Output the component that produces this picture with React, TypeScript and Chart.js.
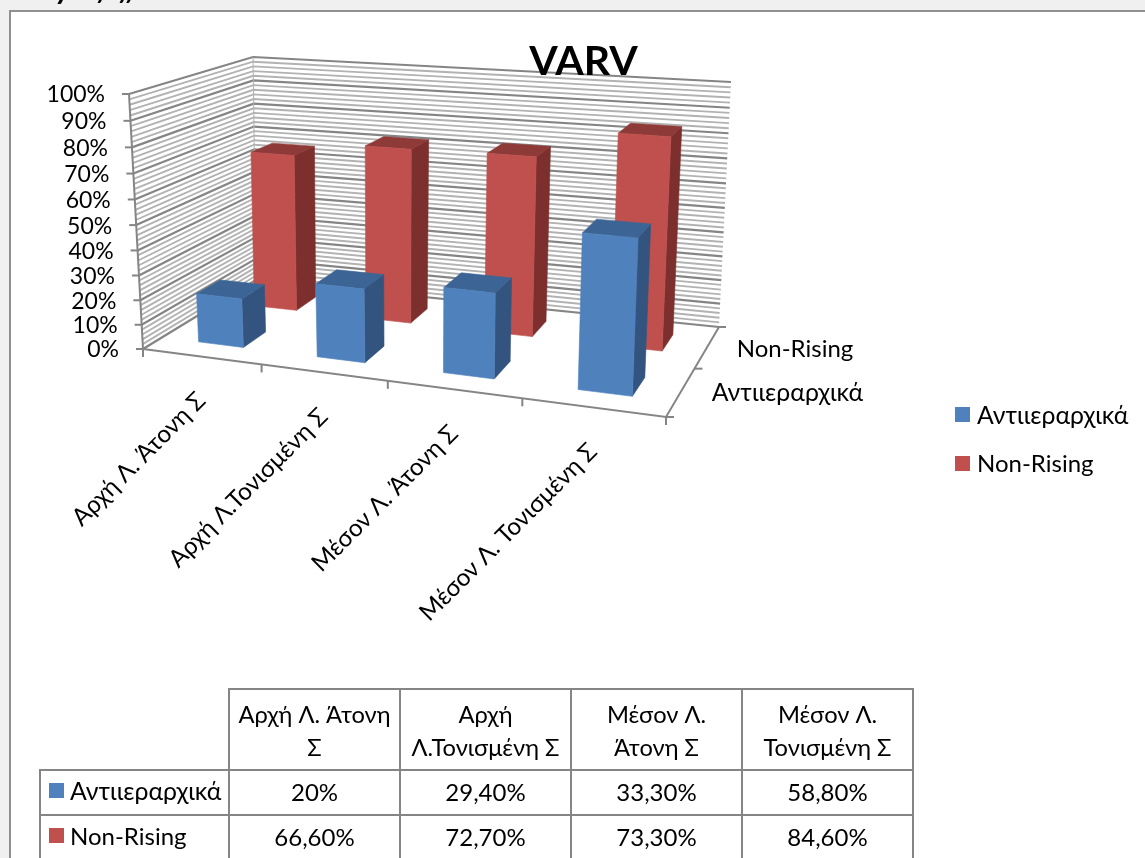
import React, { useEffect, useRef } from "react";
import { Chart, registerables } from "chart.js";

Chart.register(...registerables);

const categories = ["Αρχή Λ. Άτονη Σ", "Αρχή Λ.Τονισμένη Σ", "Μέσον Λ. Άτονη Σ", "Μέσον Λ. Τονισμένη Σ"];
const seriesNames = ["Αντιιεραρχικά", "Non-Rising"];
const antiValues = [20, 29.4, 33.3, 58.8];
const nonRisingValues = [66.6, 72.7, 73.3, 84.6];
const antiCells = ["20%", "29,40%", "33,30%", "58,80%"];
const nonRisingCells = ["66,60%", "72,70%", "73,30%", "84,60%"];
const headerLines = [["Αρχή Λ. Άτονη", "Σ"], ["Αρχή", "Λ.Τονισμένη Σ"], ["Μέσον Λ.", "Άτονη Σ"], ["Μέσον Λ.", "Τονισμένη Σ"]];
const title = "VARV";

const FONT = 'Lato, "Open Sans", sans-serif';
const TXT = "#000";
const LINE = "#858585";
const MINOR = "#b2b2b2";
const SERIES_SIZE = [24.8, 24];
const BAR_SHIFT = 0.003;
const FACES = [
  { front: "#4f81bd", side: "#32547f", top: "#3c6595" },
  { front: "#c0504d", side: "#7c2f2d", top: "#8e3a38" },
];

type P = [number, number];
const FL0: P = [143, 349], FR0: P = [666, 417], BL0: P = [256, 280], BR0: P = [719, 327];
const FL1: P = [129, 94], FR1: P = [678, 132], BL1: P = [253, 57], BR1: P = [731, 82];

const warp = (x: number, a: number) => (a * x) / (1 + (a - 1) * x);
const mix = (a: P, b: P, k: number): P => [a[0] + (b[0] - a[0]) * k, a[1] + (b[1] - a[1]) * k];

function project(t: number, d: number, h: number): P {
  const u = warp(t, 0.88), v = warp(d, 1.16), w = warp(h, 0.945);
  const low = mix(mix(FL0, FR0, u), mix(BL0, BR0, u), v);
  const high = mix(mix(FL1, FR1, u), mix(BL1, BR1, u), v);
  return mix(low, high, w);
}

function poly(ctx: CanvasRenderingContext2D, pts: P[], fill: string) {
  ctx.beginPath();
  pts.forEach((p, i) => (i ? ctx.lineTo(p[0], p[1]) : ctx.moveTo(p[0], p[1])));
  ctx.closePath();
  ctx.fillStyle = fill;
  ctx.fill();
  ctx.strokeStyle = fill;
  ctx.lineWidth = 0.6;
  ctx.stroke();
}

function seg(ctx: CanvasRenderingContext2D, pts: P[], color: string, width: number) {
  ctx.beginPath();
  pts.forEach((p, i) => (i ? ctx.lineTo(p[0], p[1]) : ctx.moveTo(p[0], p[1])));
  ctx.strokeStyle = color;
  ctx.lineWidth = width;
  ctx.stroke();
}

function text(ctx: CanvasRenderingContext2D, s: string, x: number, y: number, size: number, align: CanvasTextAlign = "center") {
  ctx.font = `${size}px ${FONT}`;
  ctx.fillStyle = TXT;
  ctx.textAlign = align;
  ctx.textBaseline = "middle";
  ctx.fillText(s, x, y);
}

const scene = {
  id: "scene",
  beforeDatasetsDraw(chart: any) {
    const ctx: CanvasRenderingContext2D = chart.ctx;
    const { x: xs, y: ys } = chart.scales;
    const area = chart.chartArea;
    const W = chart.width, H = chart.height;
    ctx.save();
    // page frame
    ctx.fillStyle = "#f0f0f0";
    ctx.fillRect(0, 0, W, H);
    ctx.fillStyle = "#fff";
    ctx.fillRect(10, 11, W, H);
    seg(ctx, [[10, H], [10, 11], [W, 11]], "#8f8f8f", 2);
    // cropped text of the page above
    ctx.font = `italic bold 30px ${FONT}`;
    ctx.fillStyle = "#000";
    ctx.textAlign = "left";
    ctx.textBaseline = "alphabetic";
    ctx.fillText("y", 56, -1);
    ctx.fillText("/", 98, 1);
    ctx.fillText("//", 120, 1);

    // walls
    poly(ctx, [project(0, 0, 0), project(0, 1, 0), project(0, 1, 1), project(0, 0, 1)], "#fff");
    poly(ctx, [project(0, 1, 0), project(1, 1, 0), project(1, 1, 1), project(0, 1, 1)], "#fff");
    const max = ys.max;
    for (let i = 0; i <= 50; i++) {
      if (i % 5 === 0) continue;
      const h = i / 50;
      seg(ctx, [project(0, 0, h), project(0, 1, h), project(1, 1, h)], MINOR, 1.9);
    }
    ys.ticks.forEach((tk: any) => {
      const h = (area.bottom - ys.getPixelForValue(tk.value)) / area.height;
      seg(ctx, [project(0, 0, h), project(0, 1, h), project(1, 1, h)], LINE, 2.2);
      const p = project(0, 0, h);
      seg(ctx, [[p[0] - 7, p[1]], p], LINE, 2);
      text(ctx, `${Math.round((tk.value / max) * 100)}%`, p[0] - 24, p[1] + 1, 23, "right");
    });
    seg(ctx, [project(0, 0, 0), project(0, 0, 1)], LINE, 2);
    seg(ctx, [project(0, 1, 0), project(0, 1, 1)], MINOR, 1);

    // title sits over the wall lines
    ctx.font = `bold 41px ${FONT}`;
    ctx.fillStyle = "#000";
    ctx.textAlign = "center";
    ctx.textBaseline = "alphabetic";
    ctx.fillText(title, 583.5, 75);

    // floor edges
    seg(ctx, [project(0, 0, 0), project(1, 0, 0), project(1, 1, 0)], LINE, 2);
    for (let i = 0; i <= categories.length; i++) {
      const p = project(i / categories.length, 0, 0);
      seg(ctx, [p, [p[0], p[1] + 8]], LINE, 2);
    }
    const fr = project(1, 0, 0), mid = project(1, 0.5, 0), br = project(1, 1, 0);
    seg(ctx, [fr, [fr[0] + 8, fr[1]]], LINE, 2);
    seg(ctx, [mid, [mid[0] + 8, mid[1]]], LINE, 2);
    seg(ctx, [br, [br[0] + 7, br[1]]], LINE, 2);

    // depth axis labels
    text(ctx, seriesNames[1], 795, 349, SERIES_SIZE[1]);
    text(ctx, seriesNames[0], 787.5, 393, SERIES_SIZE[0]);

    // rotated category labels
    categories.forEach((c, i) => {
      const p = project((xs.getPixelForValue(i) - area.left) / area.width, 0, 0);
      ctx.save();
      ctx.translate(p[0], p[1] + 40);
      ctx.rotate((-45 * Math.PI) / 180);
      text(ctx, c, 0, 0, 24.3, "right");
      ctx.restore();
    });

    // legend
    [[407, 416], [456, 464]].forEach(([sy, ty], i) => {
      ctx.fillStyle = FACES[i].front;
      ctx.fillRect(955, sy, 15, 15);
      text(ctx, seriesNames[i], 977, ty, SERIES_SIZE[i], "left");
    });

    // data table
    const cols = [229, 400, 571, 742, 913];
    seg(ctx, [[229, H], [229, 689], [913, 689], [913, H]], LINE, 2);
    seg(ctx, [[40, H], [40, 770], [913, 770]], LINE, 2);
    seg(ctx, [[40, 815], [913, 815]], LINE, 2);
    cols.slice(1, 4).forEach((x) => seg(ctx, [[x, 689], [x, H]], LINE, 2));
    headerLines.forEach((ls, i) => {
      const cx = (cols[i] + cols[i + 1]) / 2;
      text(ctx, ls[0], cx, 715, 23.7);
      text(ctx, ls[1], cx, 748, 23.7);
    });
    [antiCells, nonRisingCells].forEach((cells, r) => {
      const y = r === 0 ? 793 : 838;
      ctx.fillStyle = FACES[r].front;
      ctx.fillRect(49, r === 0 ? 783 : 828, 15, 15);
      text(ctx, seriesNames[r], 70, y - 1, SERIES_SIZE[r], "left");
      cells.forEach((s, i) => text(ctx, s, (cols[i] + cols[i + 1]) / 2, y, 24));
    });
    ctx.restore();
  },
  beforeDatasetDraw(chart: any, args: any) {
    const ctx: CanvasRenderingContext2D = chart.ctx;
    const area = chart.chartArea;
    const series = args.index;
    const f = FACES[series];
    const d0 = 0.15 + 0.5 * series, d1 = d0 + 0.2;
    args.meta.data.forEach((el: any) => {
      const t0 = (el.x - el.width / 2 - area.left) / area.width + BAR_SHIFT;
      const t1 = (el.x + el.width / 2 - area.left) / area.width + BAR_SHIFT;
      const h = (el.base - el.y) / area.height;
      poly(ctx, [project(t1, d0, 0), project(t1, d1, 0), project(t1, d1, h), project(t1, d0, h)], f.side);
      poly(ctx, [project(t0, d0, h), project(t1, d0, h), project(t1, d1, h), project(t0, d1, h)], f.top);
      poly(ctx, [project(t0, d0, 0), project(t1, d0, 0), project(t1, d0, h), project(t0, d0, h)], f.front);
    });
    return false;
  },
};

export default function App() {
  const ref = useRef<HTMLCanvasElement>(null);
  useEffect(() => {
    document.body.style.margin = "0";
    document.body.style.overflow = "hidden";
    const chart = new Chart(ref.current!, {
      type: "bar",
      data: {
        labels: categories,
        datasets: [
          { label: seriesNames[0], data: antiValues, backgroundColor: FACES[0].front, grouped: false, categoryPercentage: 1, barPercentage: 0.385 },
          { label: seriesNames[1], data: nonRisingValues, backgroundColor: FACES[1].front, grouped: false, categoryPercentage: 1, barPercentage: 0.385 },
        ],
      },
      options: {
        responsive: false,
        animation: false,
        layout: { padding: { left: 130, right: 420, top: 60, bottom: 440 } },
        plugins: { legend: { display: false }, title: { display: false }, tooltip: { enabled: false } },
        scales: {
          x: { display: false, offset: true },
          y: { display: false, min: 0, max: 100, ticks: { stepSize: 10 } },
        },
      },
      plugins: [scene],
    } as any);
    return () => chart.destroy();
  }, []);
  return <canvas ref={ref} width={1145} height={858} style={{ display: "block" }} />;
}
